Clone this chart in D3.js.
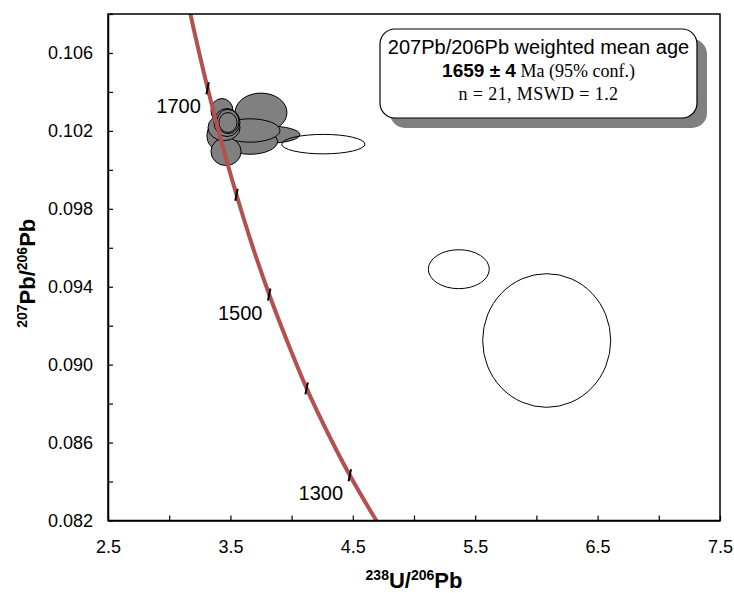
<!DOCTYPE html>
<html>
<head>
<meta charset="utf-8">
<script src="https://cdn.jsdelivr.net/npm/d3@7"></script>
<style>
  html, body { margin: 0; padding: 0; background: #fff; }
  svg { display: block; }
</style>
</head>
<body>
<svg id="chart" width="734" height="593"></svg>
<script>
// ---------------- data ----------------
// Tera-Wasserburg concordia points (age in Ma)
const concAge = [1240, 1250, 1300, 1350, 1400, 1450, 1500, 1550, 1600, 1650, 1700, 1750, 1800];
const concX   = [4.7147, 4.6733, 4.4756, 4.2926, 4.1227, 3.9645, 3.8170, 3.6790, 3.5497, 3.4282, 3.3139, 3.2063, 3.1046];
const concY   = [0.08177, 0.08219, 0.08432, 0.08653, 0.08878, 0.09119, 0.09360, 0.09611, 0.09872, 0.10141, 0.10419, 0.10706, 0.11004];
const tickAges  = [1300, 1400, 1500, 1600, 1700];
const labelAges = [1300, 1500, 1700];

// Gray (accepted) analysis ellipses: centre and half-axes in data units
const grayCx = [3.750, 3.807, 3.660, 3.660, 3.382, 3.464, 3.448, 3.431, 3.472, 3.480, 3.480];
const grayCy = [0.10294, 0.10181, 0.10145, 0.10202, 0.10176, 0.10094, 0.10217, 0.10304, 0.10243, 0.10248, 0.10243];
const graySx = [0.212, 0.261, 0.225, 0.245, 0.074, 0.123, 0.131, 0.090, 0.106, 0.090, 0.074];
const graySy = [0.00100, 0.00044, 0.00065, 0.00060, 0.00067, 0.00072, 0.00067, 0.00062, 0.00072, 0.00062, 0.00051];

// Open (rejected) ellipses
const openCx = [4.259, 5.366, 6.084];
const openCy = [0.10132, 0.09490, 0.09124];
const openSx = [0.340, 0.249, 0.523];
const openSy = [0.00050, 0.00100, 0.00343];

const xTicks = [2.5, 3.0, 3.5, 4.0, 4.5, 5.0, 5.5, 6.0, 6.5, 7.0, 7.5];
const xLabels = [2.5, 3.5, 4.5, 5.5, 6.5, 7.5];
const yTicks = [0.082, 0.084, 0.086, 0.088, 0.090, 0.092, 0.094, 0.096, 0.098, 0.100, 0.102, 0.104, 0.106, 0.108];
const yLabels = [0.082, 0.086, 0.090, 0.094, 0.098, 0.102, 0.106];

const legendLines = ["207Pb/206Pb weighted mean age", "1659 ± 4", " Ma (95% conf.)", "n = 21, MSWD = 1.2"];

// ---------------- layout ----------------
const L = 108, R = 720, T = 14, B = 520.5;
const svg = d3.select("#chart");
const x = d3.scaleLinear().domain([2.5, 7.5]).range([L, R]);
const y = d3.scaleLinear().domain([0.082, 0.108]).range([B, T]);

svg.append("defs").append("clipPath").attr("id", "plotclip")
  .append("rect").attr("x", L).attr("y", T).attr("width", R - L).attr("height", B - T);

const plot = svg.append("g").attr("clip-path", "url(#plotclip)");

// gray ellipses
const grayIdx = d3.range(grayCx.length);
plot.selectAll("ellipse.gray").data(grayIdx).join("ellipse")
  .attr("class", "gray")
  .attr("cx", i => x(grayCx[i]))
  .attr("cy", i => y(grayCy[i]))
  .attr("rx", i => x(grayCx[i] + graySx[i]) - x(grayCx[i]))
  .attr("ry", i => y(grayCy[i]) - y(grayCy[i] + graySy[i]))
  .attr("fill", "#808080")
  .attr("stroke", "#000")
  .attr("stroke-width", 1);

// open ellipses
const openIdx = d3.range(openCx.length);
plot.selectAll("ellipse.open").data(openIdx).join("ellipse")
  .attr("class", "open")
  .attr("cx", i => x(openCx[i]))
  .attr("cy", i => y(openCy[i]))
  .attr("rx", i => x(openCx[i] + openSx[i]) - x(openCx[i]))
  .attr("ry", i => y(openCy[i]) - y(openCy[i] + openSy[i]))
  .attr("fill", "none")
  .attr("stroke", "#000")
  .attr("stroke-width", 1);

// concordia
const concIdx = d3.range(concAge.length);
const line = d3.line().x(i => x(concX[i])).y(i => y(concY[i])).curve(d3.curveCatmullRom);
plot.append("path").datum(concIdx)
  .attr("d", line)
  .attr("fill", "none")
  .attr("stroke", "#b3514e")
  .attr("stroke-width", 4);

// age ticks
plot.selectAll("line.age").data(tickAges).join("line")
  .attr("class", "age")
  .attr("x1", a => x(concX[concAge.indexOf(a)]) - 1.2)
  .attr("y1", a => y(concY[concAge.indexOf(a)]) + 6)
  .attr("x2", a => x(concX[concAge.indexOf(a)]) + 1.2)
  .attr("y2", a => y(concY[concAge.indexOf(a)]) - 6)
  .attr("stroke", "#000")
  .attr("stroke-width", 2);

svg.selectAll("text.age").data(labelAges).join("text")
  .attr("class", "age")
  .attr("x", a => x(concX[concAge.indexOf(a)]) - 29)
  .attr("y", a => y(concY[concAge.indexOf(a)]) + 18)
  .attr("dy", "0.35em")
  .attr("text-anchor", "middle")
  .attr("font-family", "Liberation Sans, Arial, sans-serif")
  .attr("font-size", 20)
  .attr("fill", "#000")
  .text(a => a);

// frame
svg.append("rect").attr("x", L).attr("y", T).attr("width", R - L).attr("height", B - T)
  .attr("fill", "none").attr("stroke", "#000").attr("stroke-width", 1.5);

// axes
const fmtX = d3.format(".1f"), fmtY = d3.format(".3f");
const xAxis = d3.axisBottom(x).tickValues(xTicks).tickSizeInner(-5).tickSizeOuter(0).tickPadding(20)
  .tickFormat(v => xLabels.some(l => Math.abs(l - v) < 1e-9) ? fmtX(v) : "");
const yAxis = d3.axisLeft(y).tickValues(yTicks).tickSizeInner(-5).tickSizeOuter(0).tickPadding(15)
  .tickFormat(v => yLabels.some(l => Math.abs(l - v) < 1e-9) ? fmtY(v) : "");

const gx = svg.append("g").attr("transform", `translate(0,${B})`).call(xAxis);
const gy = svg.append("g").attr("transform", `translate(${L},0)`).call(yAxis);
[gx, gy].forEach(g => {
  g.select(".domain").attr("stroke", "#000").attr("stroke-width", 1.5);
  g.selectAll(".tick line").attr("stroke", "#000").attr("stroke-width", 1.2);
  g.selectAll(".tick text").attr("fill", "#000")
    .attr("font-family", "Liberation Sans, Arial, sans-serif").attr("font-size", 18);
});

// axis titles
const xt = svg.append("text").attr("x", (L + R) / 2).attr("y", 588).attr("text-anchor", "middle")
  .attr("font-family", "Liberation Sans, Arial, sans-serif").attr("font-weight", "bold").attr("font-size", 22);
xt.append("tspan").attr("font-size", 14).attr("dy", -8).text("238");
xt.append("tspan").attr("dy", 8).text("U/");
xt.append("tspan").attr("font-size", 14).attr("dy", -8).text("206");
xt.append("tspan").attr("dy", 8).text("Pb");

const yt = svg.append("text").attr("transform", `translate(35,${(T + B) / 2 + 6}) rotate(-90)`)
  .attr("text-anchor", "middle")
  .attr("font-family", "Liberation Sans, Arial, sans-serif").attr("font-weight", "bold").attr("font-size", 22);
yt.append("tspan").attr("font-size", 14).attr("dy", -8).text("207");
yt.append("tspan").attr("dy", 8).text("Pb/");
yt.append("tspan").attr("font-size", 14).attr("dy", -8).text("206");
yt.append("tspan").attr("dy", 8).text("Pb");

// legend box
const bx = 380, by = 29, bw = 317, bh = 89;
svg.append("rect").attr("x", bx + 10).attr("y", by + 10).attr("width", bw).attr("height", bh)
  .attr("rx", 15).attr("fill", "#808080");
svg.append("rect").attr("x", bx).attr("y", by).attr("width", bw).attr("height", bh)
  .attr("rx", 15).attr("fill", "#fff").attr("stroke", "#000").attr("stroke-width", 1.2);
const cxL = bx + bw / 2;
svg.append("text").attr("x", cxL).attr("y", by + 25).attr("text-anchor", "middle")
  .attr("font-family", "Liberation Sans, Arial, sans-serif").attr("font-size", 20)
  .text(legendLines[0]);
const l2 = svg.append("text").attr("x", cxL).attr("y", by + 48).attr("text-anchor", "middle");
l2.append("tspan").attr("font-family", "Liberation Sans, Arial, sans-serif").attr("font-weight", "bold")
  .attr("font-size", 19).text(legendLines[1]);
l2.append("tspan").attr("font-family", "Liberation Serif, serif").attr("font-size", 18).text(legendLines[2]);
svg.append("text").attr("x", cxL).attr("y", by + 71).attr("text-anchor", "middle")
  .attr("font-family", "Liberation Serif, serif").attr("font-size", 18).attr("letter-spacing", 0.4)
  .text(legendLines[3]);
</script>
</body>
</html>
